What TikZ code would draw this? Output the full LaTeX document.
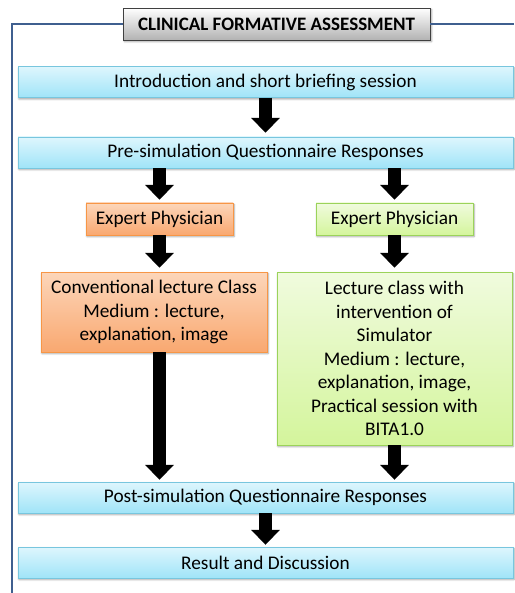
\documentclass[tikz,border=0pt]{standalone}
\usepackage{fontspec}
\setmainfont{Carlito}
\usepackage{xcolor}
\usepackage{tikz}
\usetikzlibrary{positioning,arrows.meta,calc,shadows.blur}
\definecolor{bLine}{RGB}{120,198,222}
\definecolor{bTop}{RGB}{222,246,253}
\definecolor{bBot}{RGB}{160,228,248}
\definecolor{oLine}{RGB}{247,150,70}
\definecolor{oTop}{RGB}{252,214,186}
\definecolor{oBot}{RGB}{249,168,112}
\definecolor{gLine}{RGB}{155,211,90}
\definecolor{gTop}{RGB}{240,251,222}
\definecolor{gBot}{RGB}{212,245,156}
\definecolor{fLine}{RGB}{63,95,143}
\tikzset{
  stage/.style={rectangle, draw=bLine, top color=bTop, bottom color=bBot,
                minimum width=495pt, minimum height=31pt, align=center,
                font=\fontsize{19.3}{23.5}\selectfont,
                blur shadow={shadow xshift=1pt, shadow yshift=-1.5pt, shadow blur steps=4}},
  conv/.style={rectangle, draw=oLine, top color=oTop, bottom color=oBot,
               align=center, font=\fontsize{19.3}{23.5}\selectfont,
               blur shadow={shadow xshift=1pt, shadow yshift=-1.5pt, shadow blur steps=4}},
  simu/.style={conv, draw=gLine, top color=gTop, bottom color=gBot},
  ttl/.style={rectangle, draw=black!75, top color=white, bottom color=black!30,
              minimum width=307pt, minimum height=32pt,
              font=\fontsize{19}{22}\selectfont\bfseries,
              blur shadow={shadow xshift=1.5pt, shadow yshift=-1.5pt, shadow blur steps=4}},
  blk/.style={-{Triangle[width=28pt,length=15pt]}, line width=13pt, draw=black},
  frame/.style={draw=fLine, line width=1.6pt},
}

\begin{document}
\begin{tikzpicture}[x=1pt,y=1pt]
  \useasboundingbox (0,0) rectangle (514,-593);

  % ---- frame + title ----
  \node[ttl] (title) at (276.5,-24) {CLINICAL FORMATIVE ASSESSMENT};
  \draw[frame] (title.west) -- (12,-24) -- (12,-593);
  \draw[frame] (title.east) -- (514,-24);

  % ---- common stages (blue) ----
  \node[stage] (intro) at (265.5,-82) {Introduction and short briefing session};
  \node[stage] (pre) at (265.5,-152.5) {Pre-simulation Questionnaire Responses};
  \node[stage] (post) at (265.5,-497.5) {Post-simulation Questionnaire Responses};
  \node[stage] (res) at (265.5,-562.5) {Result and Discussion};

  % ---- conventional branch (orange) ----
  \node[conv, minimum width=147pt, minimum height=32pt] (cexp) at (159.5,-219)
        {Expert Physician};
  \node[conv, minimum width=226pt, minimum height=80pt] (clec) at (154,-312)
        {Conventional lecture Class\\Medium : lecture,\\explanation, image};

  % ---- simulator branch (green) ----
  \node[simu, minimum width=157pt, minimum height=32pt] (sexp) at (394.5,-219)
        {Expert Physician};
  \node[simu, minimum width=235pt, minimum height=173pt] (slec) at (394.5,-358.5)
        {Lecture class with\\intervention of\\Simulator\\Medium : lecture,\\explanation, image,\\Practical session with\\BITA1.0};

  % ===== block arrows =====
  \draw[blk] (intro.south) -- ([yshift=4pt]pre.north);
  \draw[blk] (pre.south -| cexp.north) -- ([yshift=3pt]cexp.north);
  \draw[blk] (pre.south -| sexp.north) -- ([yshift=3pt]sexp.north);
  \draw[blk] (cexp.south) -- ([yshift=4pt]cexp.south |- clec.north);
  \draw[blk] (sexp.south) -- ([yshift=4pt]slec.north);
  \draw[blk] (cexp.south |- clec.south) -- ([yshift=2pt]cexp.south |- post.north);
  \draw[blk] (slec.south) -- ([yshift=2pt]slec.south |- post.north);
  \draw[blk] (post.south) -- ([yshift=2pt]res.north);

\end{tikzpicture}
\end{document}
